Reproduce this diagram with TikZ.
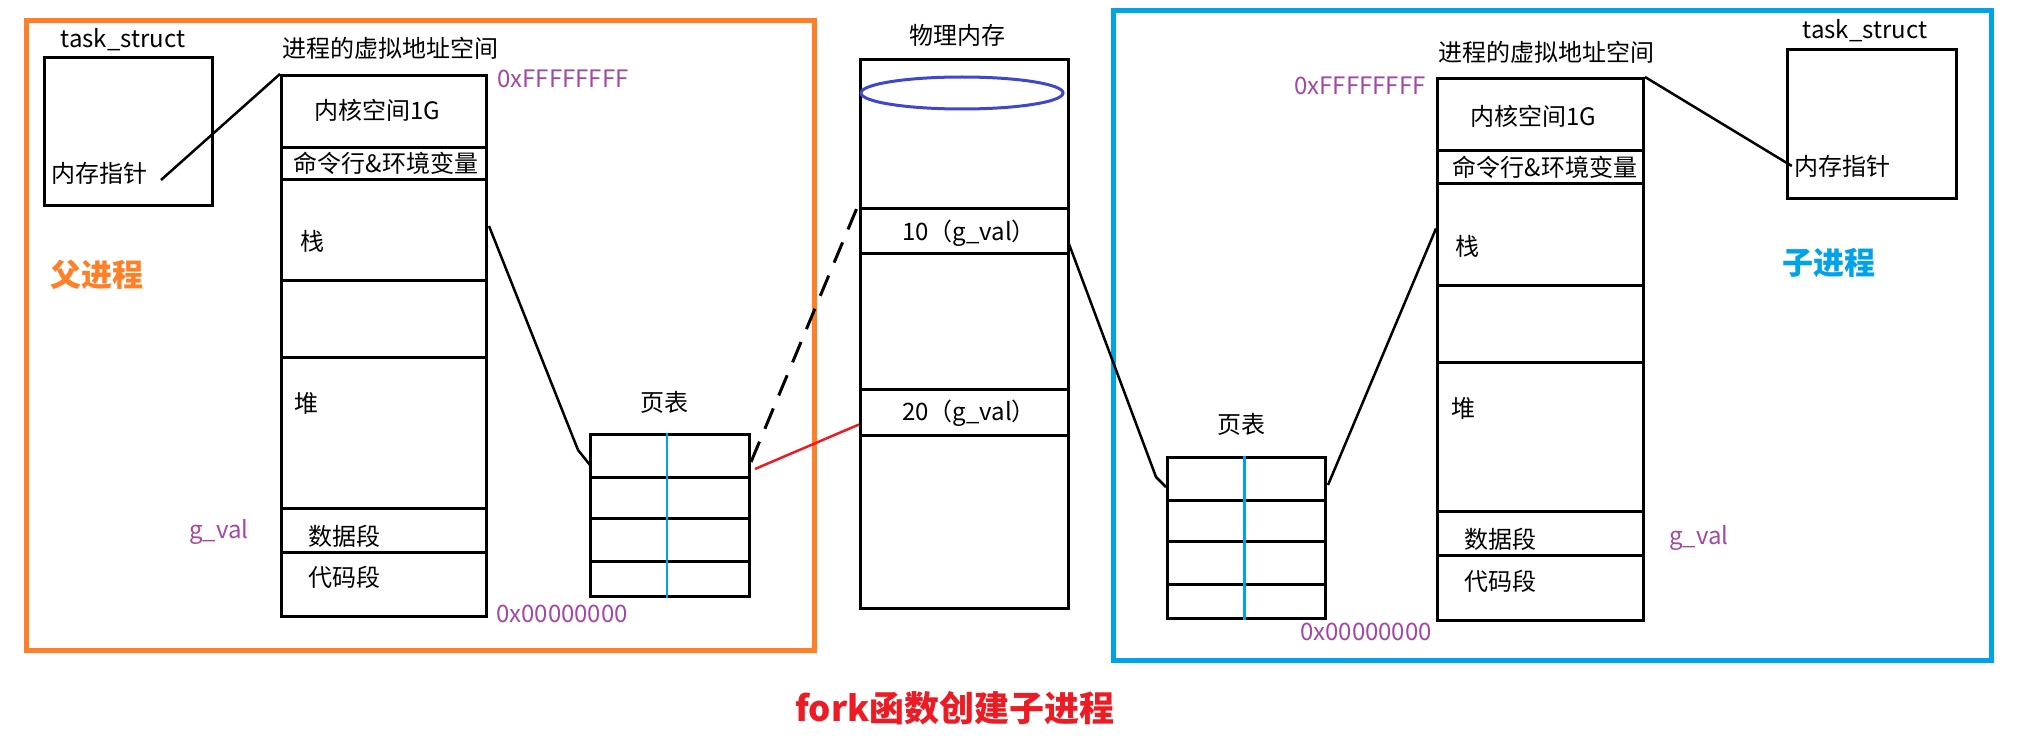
\documentclass[tikz,border=0pt]{standalone}
\usepackage{fontspec}
\setmainfont{Noto Sans CJK SC}
\begin{document}
\definecolor{porange}{HTML}{FF7F27}
\definecolor{pblue}{HTML}{00A2E8}
\definecolor{pred}{HTML}{ED1C24}
\definecolor{ppurple}{HTML}{A349A4}
\definecolor{pindigo}{HTML}{3F48CC}
\begin{tikzpicture}[x=1pt,y=-1pt,
  seg/.style={draw,line width=3pt,inner sep=0pt,anchor=north west},
  txt/.style={inner sep=0pt,font=\fontsize{24}{28}\selectfont},
  addr/.style={txt,text=ppurple},
  conn/.style={line width=2.5pt},
  title/.style={inner sep=0pt,font=\fontsize{31}{36}\selectfont\bfseries}]
\useasboundingbox (0,0) rectangle (2029,749);
\fill[white] (0,0) rectangle (2029,749);
% frames
\node[draw=porange,line width=5pt,inner sep=0pt,anchor=north west,minimum width=788pt,minimum height=630pt] (pframe) at (24,18) {};
\node[draw=pblue,line width=5pt,inner sep=0pt,anchor=north west,minimum width=878pt,minimum height=650pt] (cframe) at (1111,8) {};
% ---------- parent ----------
\node[seg,minimum width=168pt,minimum height=148pt] (ltask) at (43,56) {};
\node[txt] (ltaskl) at (123,40) {task\_struct};
\node[txt] (lptr) at (99,173) {内存指针};
\node[title,text=porange] (ltitle) at (97,275) {父进程};
\node[txt] (lvasl) at (390,48) {进程的虚拟地址空间};
\node[seg,minimum width=205pt,minimum height=72pt] (lk) at (280,74) {};
\node[seg,minimum width=205pt,minimum height=32pt] (lc) at (280,146) {};
\node[seg,minimum width=205pt,minimum height=101pt] (ls) at (280,178) {};
\node[seg,minimum width=205pt,minimum height=77pt] (lg) at (280,279) {};
\node[seg,minimum width=205pt,minimum height=151pt] (lh) at (280,356) {};
\node[seg,minimum width=205pt,minimum height=44pt] (ld) at (280,507) {};
\node[seg,minimum width=205pt,minimum height=64pt] (lt) at (280,551) {};
\node[txt] at (377,110) {内核空间1G};
\node[txt] at (386,163) {命令行\&环境变量};
\node[txt] at (312,241) {栈};
\node[txt] at (306,403) {堆};
\node[txt] at (344,536) {数据段};
\node[txt] at (344,577) {代码段};
\node[addr] at (563,79) {0xFFFFFFFF};
\node[addr] at (562,614) {0x00000000};
\node[addr] at (219,532) {g\_val};
% left page table
\node[txt] (lptl) at (664,402) {页表};
\node[seg,minimum width=159pt,minimum height=43pt] (lpt1) at (589,433) {};
\node[seg,minimum width=159pt,minimum height=41pt] (lpt2) at (589,476) {};
\node[seg,minimum width=159pt,minimum height=43pt] (lpt3) at (589,517) {};
\node[seg,minimum width=159pt,minimum height=35pt] (lpt4) at (589,560) {};
\draw[pblue,line width=2.5pt] ([xshift=-3pt]lpt1.north) -- ([xshift=-3pt]lpt4.south);
% ---------- physical memory ----------
\node[txt] (pml) at (957,35) {物理内存};
\node[seg,minimum width=208pt,minimum height=149pt] (p0) at (859,58) {};
\node[seg,minimum width=208pt,minimum height=45pt] (p1) at (859,207) {};
\node[seg,minimum width=208pt,minimum height=136pt] (p2) at (859,252) {};
\node[seg,minimum width=208pt,minimum height=46pt] (p3) at (859,388) {};
\node[seg,minimum width=208pt,minimum height=173pt] (p4) at (859,434) {};
\draw[pindigo,line width=3pt] (962,93) ellipse [x radius=101, y radius=16];
\node[txt] at (969,233) {10（g\_val）};
\node[txt] at (969,413) {20（g\_val）};
% ---------- child ----------
\node[seg,minimum width=169pt,minimum height=149pt] (rtask) at (1786,48) {};
\node[txt] (rtaskl) at (1865,31) {task\_struct};
\node[txt] (rptr) at (1842,166) {内存指针};
\node[title,text=pblue] (rtitle) at (1829,263) {子进程};
\node[txt] (rvasl) at (1546,52) {进程的虚拟地址空间};
\node[seg,minimum width=206pt,minimum height=72pt] (rk) at (1436,77) {};
\node[seg,minimum width=206pt,minimum height=33pt] (rc) at (1436,149) {};
\node[seg,minimum width=206pt,minimum height=102pt] (rs) at (1436,182) {};
\node[seg,minimum width=206pt,minimum height=77pt] (rg) at (1436,284) {};
\node[seg,minimum width=206pt,minimum height=149pt] (rh) at (1436,361) {};
\node[seg,minimum width=206pt,minimum height=44pt] (rd) at (1436,510) {};
\node[seg,minimum width=206pt,minimum height=65pt] (rt) at (1436,554) {};
\node[txt] at (1533,116) {内核空间1G};
\node[txt] at (1545,167) {命令行\&环境变量};
\node[txt] at (1467,246) {栈};
\node[txt] at (1463,408) {堆};
\node[txt] at (1500,539) {数据段};
\node[txt] at (1500,581) {代码段};
\node[addr] at (1360,86) {0xFFFFFFFF};
\node[addr] at (1366,632) {0x00000000};
\node[addr] at (1699,538) {g\_val};
% right page table
\node[txt] (rptl) at (1241,424) {页表};
\node[seg,minimum width=158pt,minimum height=43pt] (rpt1) at (1166,456) {};
\node[seg,minimum width=158pt,minimum height=41pt] (rpt2) at (1166,499) {};
\node[seg,minimum width=158pt,minimum height=43pt] (rpt3) at (1166,540) {};
\node[seg,minimum width=158pt,minimum height=34pt] (rpt4) at (1166,583) {};
\draw[pblue,line width=2.5pt] ([xshift=-2pt]rpt1.north) -- ([xshift=-2pt]rpt4.south);
% ---------- connectors ----------
\coordinate (c1s) at (161,180);
\draw[conn] (c1s) -- (lk.north west);
\coordinate (c2s) at (489,226);
\coordinate (c2e) at (590,465);
\draw[conn] (c2s) -- (578,450) -- (c2e);
\draw[conn,line width=3pt,dash pattern=on 22pt off 14pt] ([yshift=-6pt]lpt1.east) -- ([yshift=7pt]p0.south west);
\draw[pred,line width=2.5pt] ([shift={(4pt,-13pt)}]lpt1.east) -- ([yshift=-12pt]p3.west);
\coordinate (c5s) at (1069,244);
\coordinate (c5e) at (1166,487);
\draw[conn] (c5s) -- (1156,477) -- (c5e);
\draw[conn] ([shift={(1pt,-6pt)}]rpt1.east) -- ([yshift=6pt]rs.west);
\draw[conn] (rk.north east) -- ([xshift=-2pt]rptr.west);
% ---------- title ----------
\node[inner sep=0pt,font=\fontsize{35}{40}\selectfont\bfseries,text=pred] (fork) at (955,708) {fork函数创建子进程};
\end{tikzpicture}
\end{document}
